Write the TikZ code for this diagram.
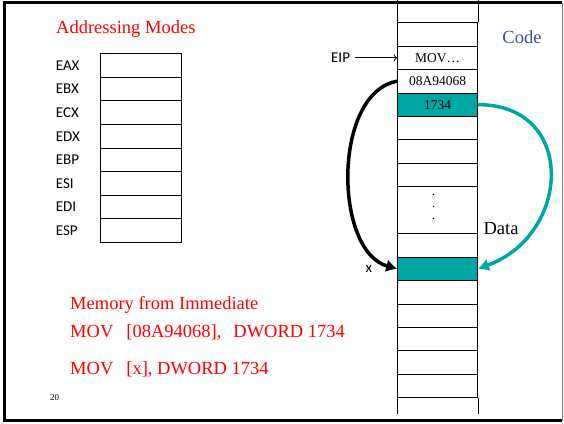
\documentclass[tikz,border=0pt]{standalone}
\usepackage{fontspec}
\setmainfont{Liberation Serif}
\newfontfamily\regfont{Carlito}
\usepackage{xcolor}
\usetikzlibrary{matrix,arrows.meta,positioning}
\definecolor{cellteal}{RGB}{0,166,166}
\definecolor{codeblue}{RGB}{62,82,150}

\begin{document}
\begin{tikzpicture}[
                 x=1pt, y=1pt,
                 title/.style={text=red,font=\fontsize{18.5}{22}\selectfont,anchor=base west,inner sep=0pt},
                 reglabel/.style={font=\regfont\fontsize{15}{18}\selectfont,inner sep=0pt},
                 regbox/.style={draw,line width=0.8pt,minimum width=81pt,minimum height=23.6pt,inner sep=0pt},
                 cell/.style={draw,line width=0.8pt,minimum width=80pt,minimum height=23.44pt,inner sep=0pt,font=\fontsize{13.5}{16}\selectfont},
                 hit/.style={fill=cellteal},
                 jump/.style={line width=3.5pt,-{Latex[length=11pt,width=13pt]}}
                 ]
\useasboundingbox (0,0) rectangle (564,-423);
% slide frame
\draw[line width=3pt] (562,-2.5) -- (4,-2.5) -- (4,-420.5) -- (562,-420.5);
\draw[gray,line width=1pt] (562.5,-2.5) -- (562.5,-420.5);

\node[title] (modes) at (56,-33) {Addressing Modes};

% registers
\matrix (reg) [matrix of nodes, nodes in empty cells, anchor=north east, inner sep=0pt,
               row sep=-0.8pt, column sep=20pt,
               column 1/.style={nodes={reglabel,anchor=west}},
               column 2/.style={nodes={regbox}}] at (182,-53) {%
EAX & \\
EBX & \\
ECX & \\
EDX & \\
EBP & \\
ESI & \\
EDI & \\
ESP & \\
};

% memory column
\matrix (mem) [matrix of nodes, nodes in empty cells, anchor=north west, inner sep=0pt,
               row sep=-0.8pt, nodes={cell},
               row 8/.style={nodes={minimum height=46.9pt}}] at (397,-22) {%
 \\
MOV\ldots \\
08A94068 \\
|[hit]| 1734 \\
 \\
 \\
 \\
 \\
 \\
|[hit]| \\
 \\
 \\
 \\
 \\
 \\
};
\draw[line width=0.8pt] (mem-1-1.north west) -- ++(0,22);
\draw[line width=0.8pt] (mem-1-1.north east) -- ++(0,22);
\draw[line width=0.8pt] (mem-15-1.south west) -- ++(0,-16);
\draw[line width=0.8pt] (mem-15-1.south east) -- ++(0,-16);
\node[align=center,inner sep=0pt,font=\fontsize{12}{12.3}\selectfont] (dots) at ([xshift=-4pt,yshift=3pt]mem-8-1) {.\\.\\.};

\node[reglabel, left=47pt of mem-2-1] (eip) {EIP};
\path (eip.east) edge[->, line width=0.8pt, shorten <=5pt] (eip.east -| mem-2-1.west);
\node[reglabel, left=25pt of mem-10-1] (xlab) {x};

\node[text=codeblue, font=\fontsize{18.5}{22}\selectfont] (code) at (522,-37) {Code};
\node[font=\fontsize{18.5}{22}\selectfont] (data) at (501,-229) {Data};

\draw[jump] (mem-3-1.west) to[out=190, in=165, looseness=0.9] (mem-10-1.west);
\draw[jump, cellteal] (mem-4-1.east) to[out=0, in=20, looseness=1.55] (mem-10-1.east);

\node[title] (line1) at (70,-309) {Memory from Immediate};
\node[title] (line2) at (70,-337) {MOV\hspace{13pt}[08A94068],\hspace{12pt}DWORD 1734};
\node[title] (line3) at (70,-374) {MOV\hspace{13pt}[x], DWORD 1734};
\node[font=\fontsize{9}{11}\selectfont, anchor=base west, inner sep=0pt] (page) at (50,-400) {20};
\end{tikzpicture}
\end{document}
